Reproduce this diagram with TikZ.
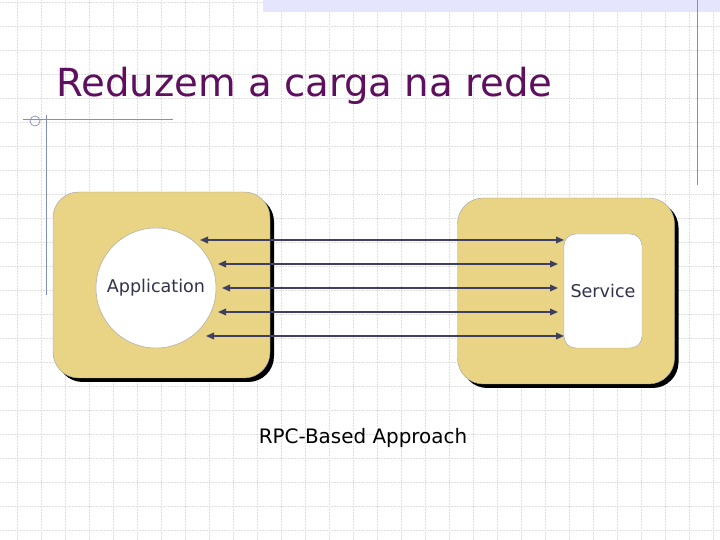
\documentclass[tikz,border=0pt]{standalone}
\usepackage{fontspec}
\setmainfont{DejaVu Sans}
\usetikzlibrary{arrows.meta,shadows,shapes.geometric}
\definecolor{titlepurple}{HTML}{5E0F5E}
\definecolor{boxtan}{HTML}{E9D384}
\definecolor{linkblue}{HTML}{3F3F62}
\definecolor{rulegray}{HTML}{8090B8}
\tikzset{
  host/.style={draw=gray!70, fill=boxtan, rounded corners=22, minimum width=217*0.03cm, minimum height=186*0.03cm,
    drop shadow={shadow xshift=1.2mm, shadow yshift=-1.2mm, fill=black, opacity=1}},
  link/.style={linkblue, line width=1.1pt, {Triangle[length=2.4mm,width=2mm]}-{Triangle[length=2.4mm,width=2mm]}},
  lbl/.style={font=\fontsize{15}{17}\selectfont, text=linkblue!80!black}
}
\begin{document}
\begin{tikzpicture}[x=0.03cm, y=-0.03cm]
\useasboundingbox (0,0) rectangle (720,540);
% background grid
\foreach \g in {0,24,...,720}
  \draw[gray!25, densely dotted, line width=0.3pt] (\g+17,0) -- (\g+17,540);
\foreach \g in {0,24,...,540}
  \draw[gray!25, densely dotted, line width=0.3pt] (0,\g+2) -- (720,\g+2);
% slide decoration
\fill[blue!10] (263,0) rectangle (720,12);
\draw[rulegray, line width=0.8pt] (697,0) -- (697,185);
\draw[rulegray, line width=0.8pt] (46,115) -- (46,295);
\draw[rulegray, line width=0.8pt] (23,119) -- (173,119);
\draw[rulegray, line width=0.6pt] (35,121) circle (5);
% title
\node[anchor=west, text=titlepurple, font=\fontsize{33}{38}\selectfont] (title) at (52,86) {Reduzem a carga na rede};
% hosts
\node[host] (client) at (161.5,285) {};
\node[host] (server) at (566,291) {};
\node[draw=gray!70, fill=white, circle, minimum size=120*0.03cm, inner sep=0pt] (app) at (156,288) {};
\node[lbl] (applbl) at (app) {Application};
\node[draw=gray!70, fill=white, rounded corners=10, minimum width=78*0.03cm, minimum height=114*0.03cm, lbl] (svc) at (603,291) {Service};
% calls
\foreach \y/\xa/\xb [count=\i] in {240/200/564, 264/218/558, 288/222/558, 312/218/558, 336/206/564} {
  \coordinate (c\i) at (\xa,\y);
  \coordinate (s\i) at (\xb,\y);
  \draw[link] (c\i) -- (s\i);
}
\node[font=\fontsize{17}{20}\selectfont] (caption) at (363,438) {RPC-Based Approach};
\end{tikzpicture}
\end{document}
